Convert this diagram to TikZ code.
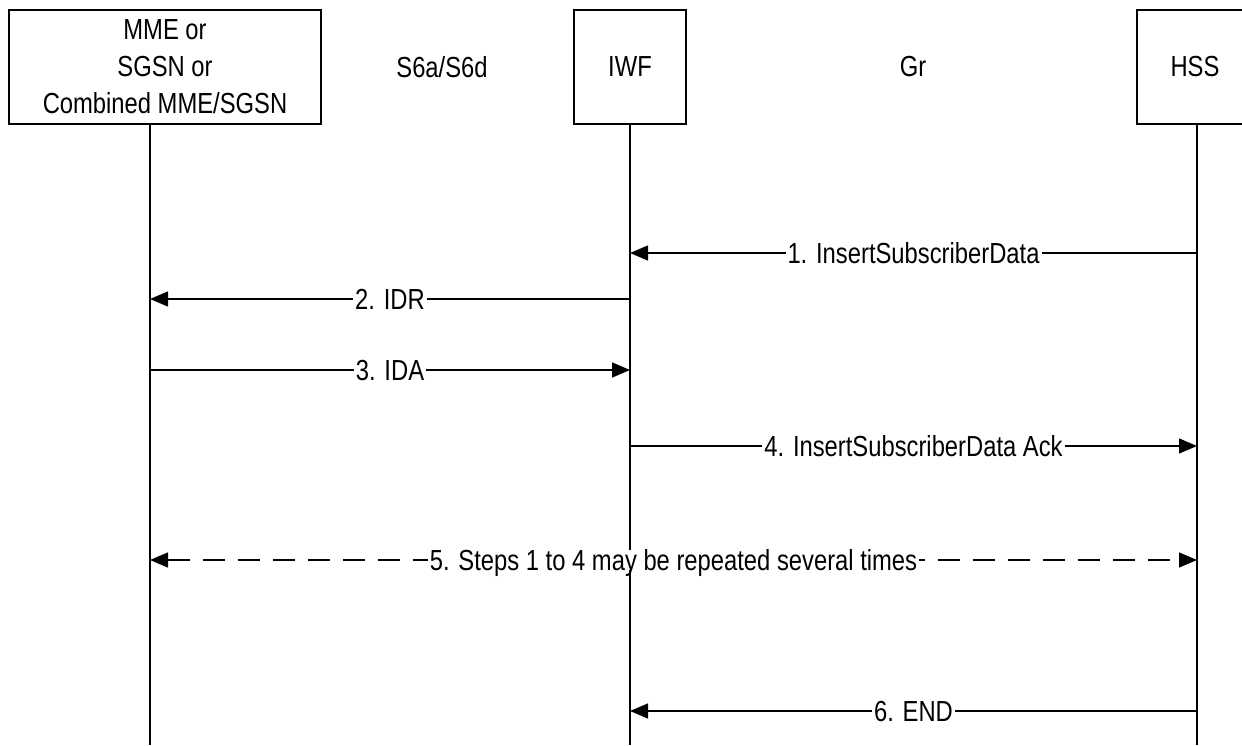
\documentclass[tikz,border=0pt]{standalone}
\usepackage{fontspec}
\setmainfont{Liberation Sans}[FakeStretch=0.82]
\usetikzlibrary{arrows.meta}

\tikzset{
    entity/.style={draw, align=center, inner sep=0pt, minimum height=57pt},
    msg/.style={-{Triangle[length=9pt,width=7.5pt]}},
    lbl/.style={fill=white, inner xsep=1pt, inner ysep=0pt, text height=10.4pt, text depth=0pt}
}

\begin{document}
\begin{tikzpicture}[x=0.5pt, y=-0.5pt, line width=0.7pt, font=\fontsize{14.5}{18.5}\selectfont]
            \useasboundingbox (0,0) rectangle (1242,745);

            \node[entity, minimum width=156pt] (mme) at (165, 67) {MME or\\SGSN or\\Combined MME/SGSN};
            \node[entity, minimum width=56pt] (iwf) at (630, 67) {IWF};
            \node[entity, minimum width=58pt] (hss) at (1195, 67) {HSS};

            \node (s6) at (442, 67) {S6a/S6d};
            \node (gr) at (913, 67) {Gr};

            \coordinate (mmetop) at (150, 124);
            \coordinate (mmeend) at (150, 745);
            \coordinate (iwfend) at (630, 745);
            \coordinate (hssend) at (1197, 745);

            \draw (mmetop) -- (mmeend);
            \draw (iwf.south) -- (iwfend);
            \draw (hss.south -| hssend) -- (hssend);

            \coordinate (mme2) at (150, 299);
            \coordinate (mme3) at (150, 370);
            \coordinate (mme5) at (150, 560);

            \coordinate (iwf1) at (630, 253);
            \coordinate (iwf2) at (630, 299);
            \coordinate (iwf3) at (630, 370);
            \coordinate (iwf4) at (630, 446);
            \coordinate (iwf6) at (630, 711);

            \coordinate (hss1) at (1197, 253);
            \coordinate (hss4) at (1197, 446);
            \coordinate (hss5) at (1197, 560);
            \coordinate (hss6) at (1197, 711);

            \draw[msg] (hss1) -- node[lbl] {1. InsertSubscriberData} (iwf1);
            \draw[msg] (iwf2) -- node[lbl] {2. IDR} (mme2);
            \draw[msg] (mme3) -- node[lbl] {3. IDA} (iwf3);
            \draw[msg] (iwf4) -- node[lbl] {4. InsertSubscriberData Ack} (hss4);
            \draw[{Triangle[length=9pt,width=7.5pt]}-{Triangle[length=9pt,width=7.5pt]}, dash pattern=on 11pt off 6.5pt]
                (mme5) -- node[lbl] {5. Steps 1 to 4 may be repeated several times} (hss5);
            \draw[msg] (hss6) -- node[lbl] {6. END} (iwf6);
        \end{tikzpicture}
\end{document}
